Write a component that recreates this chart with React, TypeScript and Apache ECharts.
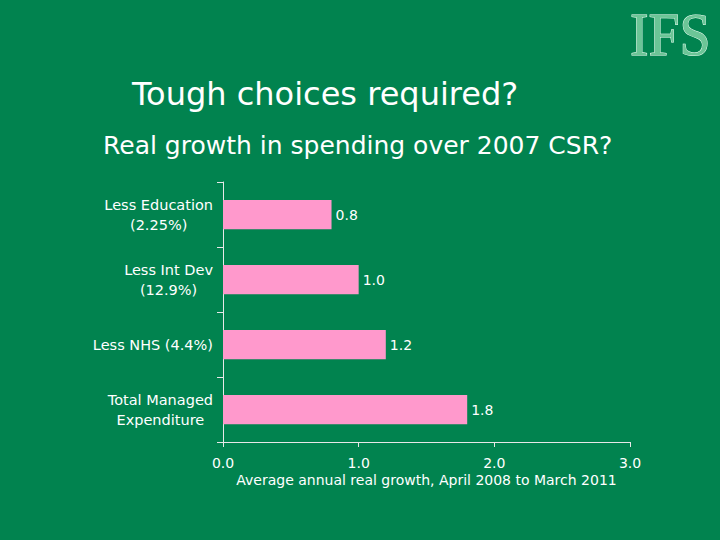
import React, { useEffect, useRef } from "react";
import * as echarts from "echarts";

const categories = [
  "Less Education\n(2.25%)",
  "Less Int Dev\n(12.9%)",
  "Less NHS (4.4%)",
  "Total Managed\nExpenditure",
];
const values = [0.8, 1.0, 1.2, 1.8];
const xTicks = [0, 1, 2, 3];

const titleText = "Tough choices required?";
const subtitleText = "Real growth in spending over 2007 CSR?";
const xAxisName = "Average annual real growth, April 2008 to March 2011";

const BG = "#01834f";
const PINK = "#ff99cc";
const FONT = "'DejaVu Sans', Arial, sans-serif";

export default function App() {
  const ref = useRef<HTMLDivElement>(null);
  useEffect(() => {
    if (!ref.current) return;
    const chart = echarts.init(ref.current, undefined, { renderer: "svg" });
    chart.setOption({
      animation: false,
      backgroundColor: BG,
      title: [
        {
          text: titleText,
          left: 127,
          top: 73,
          textStyle: { color: "#ffffff", fontSize: 32, fontWeight: "normal", fontFamily: FONT },
        },
        {
          text: subtitleText,
          left: 98,
          top: 128,
          textStyle: { color: "#ffffff", fontSize: 25, fontWeight: "normal", fontFamily: FONT },
        },
      ],
      graphic: [
        {
          type: "text",
          x: 630,
          y: 3,
          scaleX: 0.9,
          style: {
            text: "IFS",
            font: "normal 62px 'Liberation Serif', 'Times New Roman', serif",
            fill: "#6cc597",
            stroke: "#f0fff5",
            lineWidth: 1,
          },
        },
      ],
      grid: { left: 223, right: 90, top: 182, bottom: 98, containLabel: false },
      xAxis: {
        type: "value",
        min: xTicks[0],
        max: xTicks[xTicks.length - 1],
        interval: 1,
        name: xAxisName,
        nameLocation: "middle",
        nameGap: 31,
        nameTextStyle: { color: "#ffffff", fontSize: 14, fontFamily: FONT },
        splitLine: { show: false },
        axisLine: { show: true, lineStyle: { color: "#e8e8e8", width: 1 } },
        axisTick: { show: true, length: 5, lineStyle: { color: "#e8e8e8" } },
        axisLabel: {
          color: "#ffffff",
          fontSize: 14,
          fontFamily: FONT,
          margin: 14,
          formatter: (v: number) => v.toFixed(1),
        },
      },
      yAxis: {
        type: "category",
        data: categories,
        inverse: true,
        axisLine: { show: true, lineStyle: { color: "#e8e8e8", width: 1 } },
        axisTick: { show: true, length: 6, lineStyle: { color: "#e8e8e8" } },
        axisLabel: {
          color: "#ffffff",
          fontSize: 14.5,
          fontFamily: FONT,
          margin: 10,
          lineHeight: 20,
          formatter: (v: string) =>
            v
              .split("\n")
              .map((s) => "{c|" + s + "}")
              .join("\n"),
          rich: {
            c: { align: "center", color: "#ffffff", fontSize: 14.5, fontFamily: FONT, lineHeight: 20 },
          },
        },
      },
      series: [
        {
          type: "bar",
          data: values,
          barWidth: "45%",
          itemStyle: { color: PINK },
          label: {
            show: true,
            position: "right",
            distance: 4,
            color: "#ffffff",
            fontSize: 14,
            fontFamily: FONT,
            formatter: (p: any) => Number(p.value).toFixed(1),
          },
        },
      ],
    });
    return () => chart.dispose();
  }, []);
  return <div ref={ref} style={{ width: 720, height: 540, position: "absolute", left: 0, top: 0 }} />;
}
